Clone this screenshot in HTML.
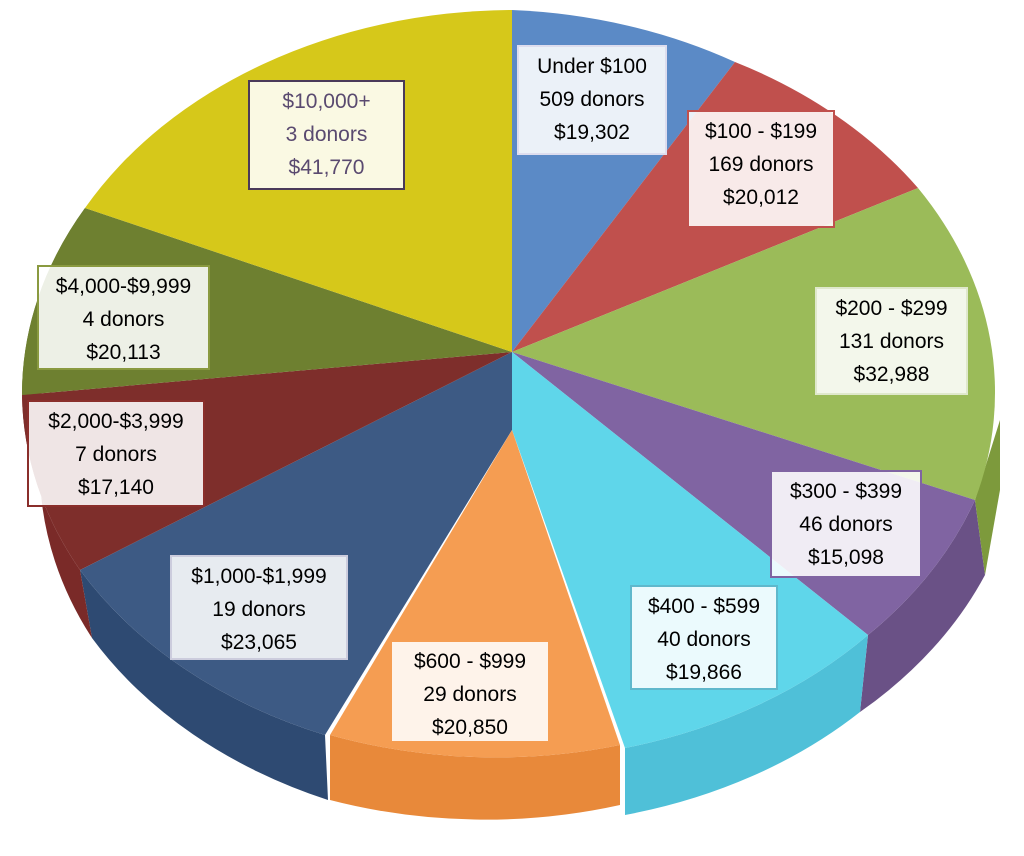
<!DOCTYPE html>
<html><head><meta charset="utf-8"><style>
body{margin:0;background:#fff;width:1024px;height:856px;overflow:hidden;position:relative;font-family:"Liberation Sans",sans-serif}
.l{position:absolute;background:rgba(255,255,255,0.88);text-align:center;font-size:21px;line-height:33px;color:#000;box-sizing:border-box;border:2px solid #ccc;padding-top:3px}
</style></head><body>
<svg width="1024" height="856" style="position:absolute;left:0;top:0">
<!-- sides -->
<path d="M868,635 A490,380 0 0 0 975,500 L985,575 A490,380 0 0 1 860,712 Z" fill="#6a5186"/>
<path d="M975,500 L1000,420 L1000,490 L985,575 Z" fill="#7d9a3c"/>
<path d="M625,748 A490,380 0 0 0 868,635 L860,712 A490,380 0 0 1 625,815 Z" fill="#4fc0d8"/>
<path d="M80,570 A490,380 0 0 0 325,735 L328,800 A490,380 0 0 1 92,638 Z" fill="#2e4a72"/>
<path d="M22,395 A490,380 0 0 0 80,570 L92,638 A490,380 0 0 1 40,480 Z" fill="#7a2a28"/>
<path d="M85,208 A490,380 0 0 0 22,395 L40,400 Z" fill="#5e6e26"/>
<!-- tops -->
<path d="M512,352 L512,10 A490,380 0 0 1 735,62 Z" fill="#5b8ac6"/>
<path d="M512,352 L735,62 A490,380 0 0 1 918,188 Z" fill="#c0504d"/>
<path d="M512,352 L918,188 A490,380 0 0 1 975,500 Z" fill="#9bbb59"/>
<path d="M512,352 L975,500 A490,380 0 0 1 868,635 Z" fill="#8064a2"/>
<path d="M512,352 L868,635 A490,380 0 0 1 625,748 L512,430 Z" fill="#5fd6ea"/>
<path d="M512,352 L512,430 L325,735 A490,380 0 0 1 80,570 Z" fill="#3d5a84"/>
<path d="M512,352 L80,570 A490,380 0 0 1 22,395 Z" fill="#7e2e2b"/>
<path d="M512,352 L22,395 A490,380 0 0 1 85,208 Z" fill="#6e8030"/>
<path d="M512,352 L85,208 A490,380 0 0 1 512,10 Z" fill="#d6c81a"/>
<!-- orange exploded -->
<path d="M330,735 A490,380 0 0 0 620,745 L620,805 A490,380 0 0 1 330,800 Z" fill="#e8893a"/>
<path d="M512,430 L330,735 A490,380 0 0 0 620,745 Z" fill="#f59d52"/>
</svg>
<div class="l" style="left:517px;top:45px;width:150px;height:110px;border-color:#dde">Under $100<br>509 donors<br>$19,302</div>
<div class="l" style="left:687px;top:110px;width:148px;height:118px;border-color:#c0504d">$100 - $199<br>169 donors<br>$20,012</div>
<div class="l" style="left:815px;top:287px;width:153px;height:108px;border-color:#dfe8cc">$200 - $299<br>131 donors<br>$32,988</div>
<div class="l" style="left:770px;top:470px;width:152px;height:108px;border-color:#8064a2">$300 - $399<br>46 donors<br>$15,098</div>
<div class="l" style="left:630px;top:585px;width:148px;height:105px;border-color:#5fb8cc">$400 - $599<br>40 donors<br>$19,866</div>
<div class="l" style="left:390px;top:640px;width:160px;height:103px;border-color:#f59d52">$600 - $999<br>29 donors<br>$20,850</div>
<div class="l" style="left:170px;top:555px;width:178px;height:105px;border-color:#ccd">$1,000-$1,999<br>19 donors<br>$23,065</div>
<div class="l" style="left:27px;top:400px;width:178px;height:107px;border-color:#8a2e2b">$2,000-$3,999<br>7 donors<br>$17,140</div>
<div class="l" style="left:37px;top:265px;width:173px;height:105px;border-color:#8a9a40">$4,000-$9,999<br>4 donors<br>$20,113</div>
<div class="l" style="left:248px;top:80px;width:157px;height:110px;border-color:#4a3a5a;color:#5a4a70">$10,000+<br>3 donors<br>$41,770</div>
</body></html>
